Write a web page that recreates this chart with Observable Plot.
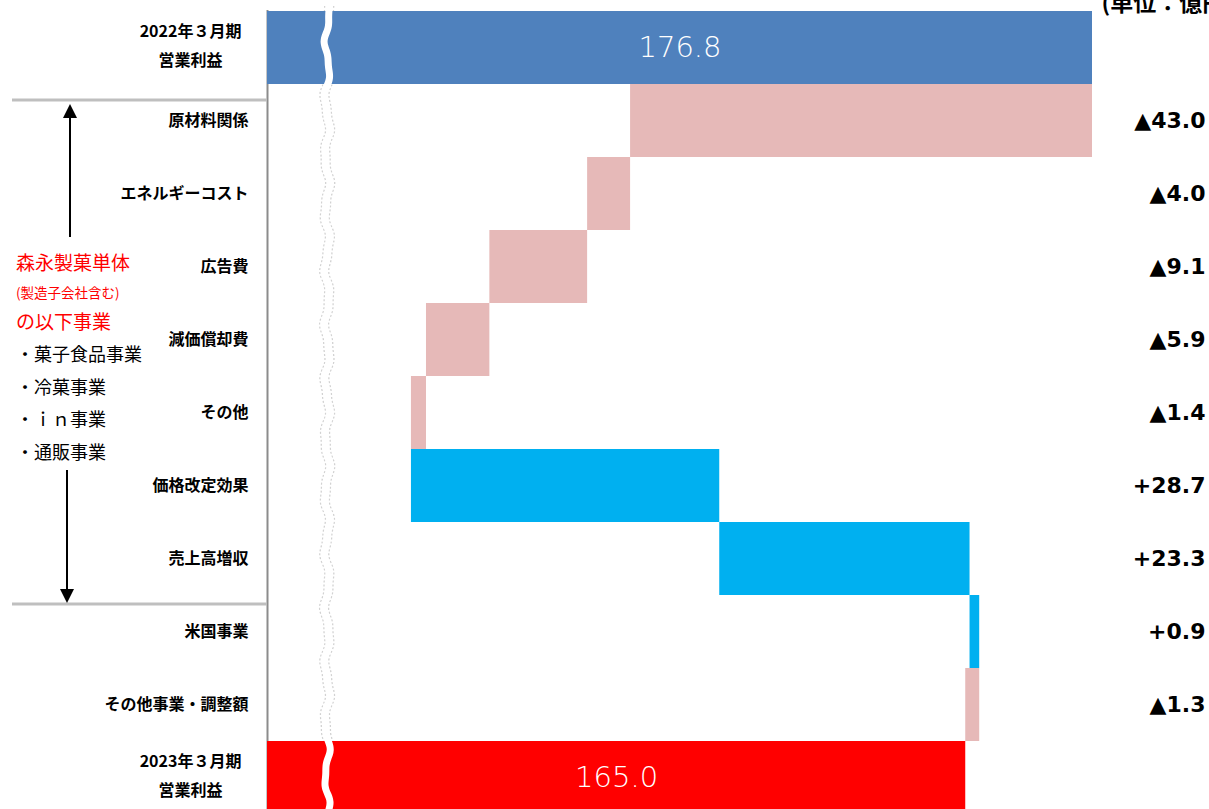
<!DOCTYPE html>
<html>
<head>
<meta charset="utf-8">
<script src="https://cdn.jsdelivr.net/npm/d3@7"></script>
<script src="https://cdn.jsdelivr.net/npm/@observablehq/plot@0.6"></script>
<style>
  html, body { margin: 0; padding: 0; background: #fff; overflow: hidden; }
</style>
</head>
<body>
<div id="chart"></div>
<script>
// Operating profit bridge, FY2022/3 -> FY2023/3 (unit: 100 million yen)
const startLabel = "2022年３月期\n営業利益";
const endLabel = "2023年３月期\n営業利益";
const startValue = 176.8;
const endValue = 165.0;

const items = ["原材料関係", "エネルギーコスト", "広告費", "減価償却費", "その他",
               "価格改定効果", "売上高増収", "米国事業", "その他事業・調整額"];
const changes = [-43.0, -4.0, -9.1, -5.9, -1.4, 28.7, 23.3, 0.9, -1.3];

const unitText = "(単位：億円)";
const noteRed = ["森永製菓単体", "(製造子会社含む)", "の以下事業"];
const noteBlack = ["・菓子食品事業", "・冷菓事業", "・ｉｎ事業", "・通販事業"];

// the value axis is shortened: it starts at 100 and a wavy break marks the cut
const axisFloor = 100;
const breakValue = 105.6;

// running totals for the floating bars
let run = startValue;
const steps = items.map((name, i) => {
  const from = run;
  run = Math.round((run + changes[i]) * 10) / 10;
  return {name, from, to: run, delta: changes[i]};
});
const totals = [
  {name: startLabel, value: startValue, color: "#4F81BD"},
  {name: endLabel, value: endValue, color: "#FF0000"}
];
const categories = [startLabel, ...items, endLabel];

const fmtDelta = d => (d < 0 ? "▲" : "+") + Math.abs(d).toFixed(1);

// wavy path of the axis break, offset sideways by dx pixels
function wave(x, dx) {
  const pts = d3.range(6, 812, 4).map(y => [
    x(breakValue) + dx + 2.4 * Math.sin(y / 9) + 0.9 * Math.sin(y / 4.1 + 1),
    y
  ]);
  return d3.line().curve(d3.curveBasis)(pts);
}

const breakEdges = (I, {x}) => {
  const g = d3.create("svg:g");
  for (const dx of [-4.5, 4.5]) {
    g.append("path").attr("d", wave(x, dx)).attr("fill", "none")
      .attr("stroke", "#d2d2d2").attr("stroke-width", 1.3).attr("stroke-dasharray", "2,2");
  }
  return g.node();
};

const breakStripe = (I, {x}) => {
  const g = d3.create("svg:g");
  g.append("path").attr("d", wave(x, 0)).attr("fill", "none")
    .attr("stroke", "#ffffff").attr("stroke-width", 7);
  return g.node();
};

// left-hand note: dividers, arrows and the scope text
const sideNote = () => {
  const g = d3.create("svg:g").attr("text-anchor", "start");
  g.selectAll("line.div").data([100, 604]).join("line")
    .attr("x1", 12).attr("x2", 267).attr("y1", d => d).attr("y2", d => d)
    .attr("stroke", "#BFBFBF").attr("stroke-width", 3);
  // up arrow
  g.append("line").attr("x1", 70).attr("x2", 70).attr("y1", 237).attr("y2", 115)
    .attr("stroke", "#000").attr("stroke-width", 2);
  g.append("path").attr("d", "M70,104L63,118L77,118Z").attr("fill", "#000");
  // down arrow
  g.append("line").attr("x1", 67).attr("x2", 67).attr("y1", 470).attr("y2", 592)
    .attr("stroke", "#000").attr("stroke-width", 2);
  g.append("path").attr("d", "M67,603L60,589L74,589Z").attr("fill", "#000");

  const redY = [263, 293, 322];
  const redSize = [19, 13.5, 19];
  noteRed.forEach((t, i) => {
    g.append("text").attr("x", 16).attr("y", redY[i]).attr("dy", "0.35em")
      .attr("text-anchor", "start")
      .attr("fill", "#FF0000").attr("font-size", redSize[i]).text(t);
  });
  noteBlack.forEach((t, i) => {
    g.append("text").attr("x", 16).attr("y", 355 + i * 32.5).attr("dy", "0.35em")
      .attr("text-anchor", "start")
      .attr("fill", "#000").attr("font-size", 18).text(t);
  });
  return g.node();
};

const chart = Plot.plot({
  width: 1209,
  height: 809,
  marginLeft: 267,
  marginRight: 117,
  marginTop: 10,
  marginBottom: 0,
  style: {fontFamily: "'Noto Sans CJK JP', sans-serif", background: "white"},
  x: {domain: [axisFloor, startValue], axis: null},
  y: {domain: categories, range: [10, 814], padding: 0, axis: null},
  marks: [
    breakEdges,
    Plot.ruleX([axisFloor], {stroke: "#8c8c8c", strokeWidth: 2}),
    Plot.barX(totals, {y: "name", x1: axisFloor, x2: "value", fill: "color"}),
    Plot.barX(steps, {y: "name", x1: "from", x2: "to",
                      fill: d => d.delta < 0 ? "#E6B9B8" : "#00B0F0"}),
    breakStripe,
    Plot.text(totals, {y: "name", x: d => (axisFloor + d.value) / 2,
                       text: d => d.value.toFixed(1), fill: "white",
                       fontSize: 29, fontFamily: "DejaVu Sans", fontWeight: 300}),
    Plot.text(steps, {y: "name", text: d => fmtDelta(d.delta), frameAnchor: "right",
                      dx: 113, textAnchor: "end", fontSize: 22, fontWeight: "bold",
                      fontFamily: "DejaVu Sans", fill: "#000"}),
    Plot.text(items, {y: d => d, text: d => d, frameAnchor: "left", dx: -19,
                      textAnchor: "end", fontSize: 16, fontWeight: "bold", fill: "#000"}),
    Plot.text([startLabel, endLabel], {y: d => d, text: d => d, frameAnchor: "left",
                      dx: -77, dy: -6, textAnchor: "middle", lineHeight: 1.85,
                      fontSize: 16, fontWeight: "bold", fill: "#000"}),
    Plot.text([unitText], {frameAnchor: "top-right", dx: 9, dy: 0, textAnchor: "start",
                      lineAnchor: "bottom", fontSize: 23, fontWeight: "bold", fill: "#000"}),
    sideNote
  ]
});

document.getElementById("chart").appendChild(chart);
</script>
</body>
</html>
